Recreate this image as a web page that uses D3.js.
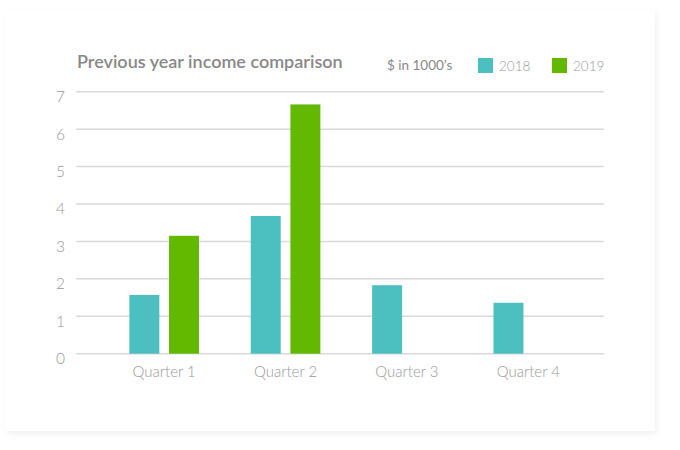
<!DOCTYPE html>
<html>
<head>
<meta charset="utf-8">
<script src="https://cdn.jsdelivr.net/npm/d3@7"></script>
<style>
  html, body { margin: 0; padding: 0; background: #fff; }
  svg { display: block; }
  text { font-family: Lato, "Open Sans", sans-serif; }
</style>
</head>
<body>
<svg width="680" height="450"></svg>
<script>
// data ($ in 1000's)
const quarters = ['Quarter 1', 'Quarter 2', 'Quarter 3', 'Quarter 4'];
const years = ['2018', '2019'];
const values2018 = [1.57, 3.68, 1.83, 1.36];
const values2019 = [3.15, 6.66, 0, 0];
const yTicks = [0, 1, 2, 3, 4, 5, 6, 7];
const colors = ['#4cc0c0', '#63b800'];

const svg = d3.select('svg');

// soft card with a faint shadow to the right and below
const defs = svg.append('defs');
const shadow = defs.append('filter').attr('id', 'shadow')
  .attr('x', '-5%').attr('y', '-5%').attr('width', '110%').attr('height', '110%');
shadow.append('feDropShadow')
  .attr('dx', 2).attr('dy', 3).attr('stdDeviation', 3)
  .attr('flood-color', '#000').attr('flood-opacity', 0.05);

svg.append('rect')
  .attr('x', 5).attr('y', 10)
  .attr('width', 650).attr('height', 421)
  .attr('fill', '#fff')
  .attr('filter', 'url(#shadow)');

const gridLeft = 76;
const gridRight = 604;

const y = d3.scaleLinear().domain([0, 7]).range([353.7, 91.7]);

const x0 = d3.scaleBand().domain(quarters).range([103.5, 589]).padding(0);
const x1 = d3.scaleBand().domain(years).range([0, x0.bandwidth()])
  .paddingInner(0.244).paddingOuter(0.652);

// gridlines
svg.append('g').selectAll('line')
  .data(yTicks)
  .join('line')
  .attr('x1', gridLeft).attr('x2', gridRight)
  .attr('y1', d => y(d)).attr('y2', d => y(d))
  .attr('stroke', '#d9d9d9')
  .attr('stroke-width', 1.5);

// y labels
svg.append('g').selectAll('text')
  .data(yTicks)
  .join('text')
  .attr('x', 65)
  .attr('y', d => y(d) + 10.5)
  .attr('text-anchor', 'end')
  .attr('fill', '#999')
  .attr('font-size', 15.5)
  .attr('font-weight', 300)
  .text(d => d);

// bars
const rows = quarters.map((q, i) => ({ q, vals: [values2018[i], values2019[i]] }));

const groups = svg.append('g').selectAll('g')
  .data(rows)
  .join('g')
  .attr('transform', d => `translate(${x0(d.q)},0)`);

groups.selectAll('rect')
  .data(d => d.vals.map((v, j) => ({ year: years[j], v, j })).filter(e => e.v > 0))
  .join('rect')
  .attr('x', d => x1(d.year))
  .attr('width', x1.bandwidth())
  .attr('y', d => y(d.v))
  .attr('height', d => y(0) - y(d.v))
  .attr('fill', d => colors[d.j]);

// x labels
svg.append('g').selectAll('text')
  .data(quarters)
  .join('text')
  .attr('x', d => x0(d) + x0.bandwidth() / 2)
  .attr('y', 377)
  .attr('text-anchor', 'middle')
  .attr('fill', '#9a9a9a')
  .attr('font-size', 15)
  .attr('font-weight', 300)
  .text(d => d);

// title
svg.append('text')
  .attr('x', 77)
  .attr('y', 68)
  .attr('fill', '#888')
  .attr('font-size', 18)
  .attr('font-weight', 600)
  .text('Previous year income comparison');

// legend
svg.append('text')
  .attr('x', 387)
  .attr('y', 70)
  .attr('fill', '#888')
  .attr('font-size', 13.5)
  .attr('font-weight', 400)
  .text('$ in 1000\u2019s');

const legendX = [478, 552];
const legend = svg.append('g').selectAll('g')
  .data(years)
  .join('g')
  .attr('transform', (d, i) => `translate(${legendX[i]},58)`);

legend.append('rect')
  .attr('width', 15).attr('height', 15)
  .attr('fill', (d, i) => colors[i]);

legend.append('text')
  .attr('x', 21)
  .attr('y', 12.5)
  .attr('fill', '#9a9a9a')
  .attr('font-size', 13.5)
  .attr('font-weight', 300)
  .text(d => d);
</script>
</body>
</html>
